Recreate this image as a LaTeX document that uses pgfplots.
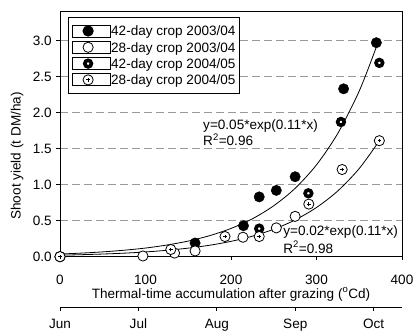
\documentclass[border=0pt]{standalone}
\usepackage{fontspec}
\setmainfont{Liberation Sans}
\usepackage{pgfplots}
\pgfplotsset{compat=1.18}
\usetikzlibrary{calc}
\pgfdeclareplotmark{smalloplus}{%
  \pgfpathcircle{\pgfpointorigin}{\pgfplotmarksize}%
  \pgfusepathqfillstroke
  \pgfpathmoveto{\pgfqpoint{-1.8bp}{0bp}}\pgfpathlineto{\pgfqpoint{1.8bp}{0bp}}%
  \pgfpathmoveto{\pgfqpoint{0bp}{-1.8bp}}\pgfpathlineto{\pgfqpoint{0bp}{1.8bp}}%
  \pgfusepathqstroke}
\pgfplotsset{
  mymark/.style={only marks,
    legend image code/.code={\path (-15.3bp,-6bp) rectangle (22.7bp,6bp); \draw[##1] plot coordinates {(0bp,0bp)};}},
}
\begin{document}
\fontsize{13.6}{16}\selectfont
\begin{tikzpicture}[font=\fontsize{13.6}{16}\selectfont]
\begin{axis}[name=main, scale only axis, width=342bp, height=245.7bp,
  xmin=0, xmax=400, ymin=0, ymax=3.41,
  xtick={0,100,200,300,400}, ytick={0,0.5,1.0,1.5,2.0,2.5,3.0},
  tick align=outside, xtick pos=bottom, ytick pos=left, major tick length=3.5bp,
  yticklabel style={/pgf/number format/.cd, fixed, fixed zerofill, precision=1, assume math mode=true},
  xticklabel style={/pgf/number format/assume math mode=true, anchor=base, inner sep=0pt, yshift=-24bp},
  ymajorgrids, grid style={black!40, dash pattern=on 8bp off 4bp, line width=0.8bp},
  axis line style={line width=0.9bp}, tick style={line width=0.8bp, black},
  xlabel={Thermal-time accumulation after grazing (\textsuperscript{o}Cd)},
  xlabel style={at={(rel axis cs:0.5,-0.1689)}, anchor=base, inner sep=0pt},
  ylabel={Shoot yield (t DM/ha)},
  ylabel style={at={(rel axis cs:-0.1257,0.41)}, anchor=center},
  legend cell align=left,
  legend style={at={(rel axis cs:0.0234,0.9756)}, anchor=north west, draw=black, line width=0.8bp,
    inner xsep=4bp, inner ysep=7.2bp, row sep=3.5bp, column sep=0bp,
    nodes={inner sep=0pt, text height=9.7bp, text depth=0pt, anchor=west}},
]
% fitted curves (read from the picture)
\addplot[black, line width=0.8bp, smooth, forget plot] coordinates {
(0,0.037) (25,0.050) (50,0.067) (75,0.090) (100,0.120) (125,0.162) (150,0.217) (175,0.292)
(200,0.392) (225,0.526) (250,0.707) (275,0.949) (300,1.275) (325,1.713) (350,2.30) (370,2.91)};
\addplot[black, line width=0.8bp, smooth, forget plot] coordinates {
(0,0.021) (25,0.028) (50,0.037) (75,0.049) (100,0.066) (125,0.089) (150,0.119) (175,0.159)
(200,0.213) (225,0.285) (250,0.381) (275,0.510) (300,0.683) (325,0.914) (350,1.224) (373,1.60)};
% 42-day crop 2003/04
\addplot[mymark, mark=*, mark size=5.2bp, mark options={fill=black, draw=black}] coordinates {
(0,0) (158,0.19) (214.6,0.43) (233,0.83) (253,0.92) (275,1.11) (331.7,2.33) (370,2.97)};
\addlegendentry{42-day crop 2003/04}
% 28-day crop 2003/04
\addplot[mymark, mark=*, mark size=5.1bp, mark options={fill=white, draw=black, line width=0.8bp}] coordinates {
(0,0) (97,0.01) (134,0.05) (158,0.08) (214,0.27) (253,0.40) (275,0.56)};
\addlegendentry{28-day crop 2003/04}
% 42-day crop 2004/05
\addplot[mymark, mark=o, mark size=3.3bp, mark options={draw=black, line width=3.6bp}] coordinates {
(0,0) (233,0.39) (290.5,0.88) (328.6,1.87) (373.5,2.69)};
\addlegendentry{42-day crop 2004/05}
% 28-day crop 2004/05
\addplot[mymark, mark=smalloplus, mark size=5.1bp, mark options={fill=white, draw=black, line width=0.8bp}] coordinates {
(0,0) (129.6,0.10) (193,0.28) (233,0.28) (291,0.73) (330,1.21) (373.5,1.61)};
\addlegendentry{28-day crop 2004/05}
\node[anchor=base west, inner sep=0pt] at (axis cs:167.3,1.763) {y=0.05*exp(0.11*x)};
\node[anchor=base west, inner sep=0pt] at (axis cs:167.3,1.54) {R\textsuperscript{2}=0.96};
\node[anchor=base west, inner sep=0pt] at (axis cs:261,0.294) {y=0.02*exp(0.11*x)};
\node[anchor=base west, inner sep=0pt] at (axis cs:261,0.05) {R\textsuperscript{2}=0.98};
\end{axis}
\begin{axis}[at={($(main.south west)+(0,-50.6bp)$)}, anchor=south west,
  scale only axis, width=342bp, height=10bp,
  xmin=0, xmax=400, ymin=0, ymax=1,
  axis x line*=bottom, hide y axis, x axis line style={-, line width=0.9bp},
  xtick={0,91.7,183.4,275.2,366.9}, xticklabels={Jun,Jul,Aug,Sep,Oct},
  tick align=outside, major tick length=3.5bp, tick style={line width=0.8bp, black},
  xticklabel style={anchor=base, yshift=-18bp},
]
\addplot[draw=none] coordinates {(0,0) (400,1)};
\end{axis}
\pgfresetboundingbox
\useasboundingbox ($(main.south west)+(-60bp,-75.3bp)$) rectangle ($(main.north east)+(12bp,11bp)$);
\end{tikzpicture}
\end{document}
